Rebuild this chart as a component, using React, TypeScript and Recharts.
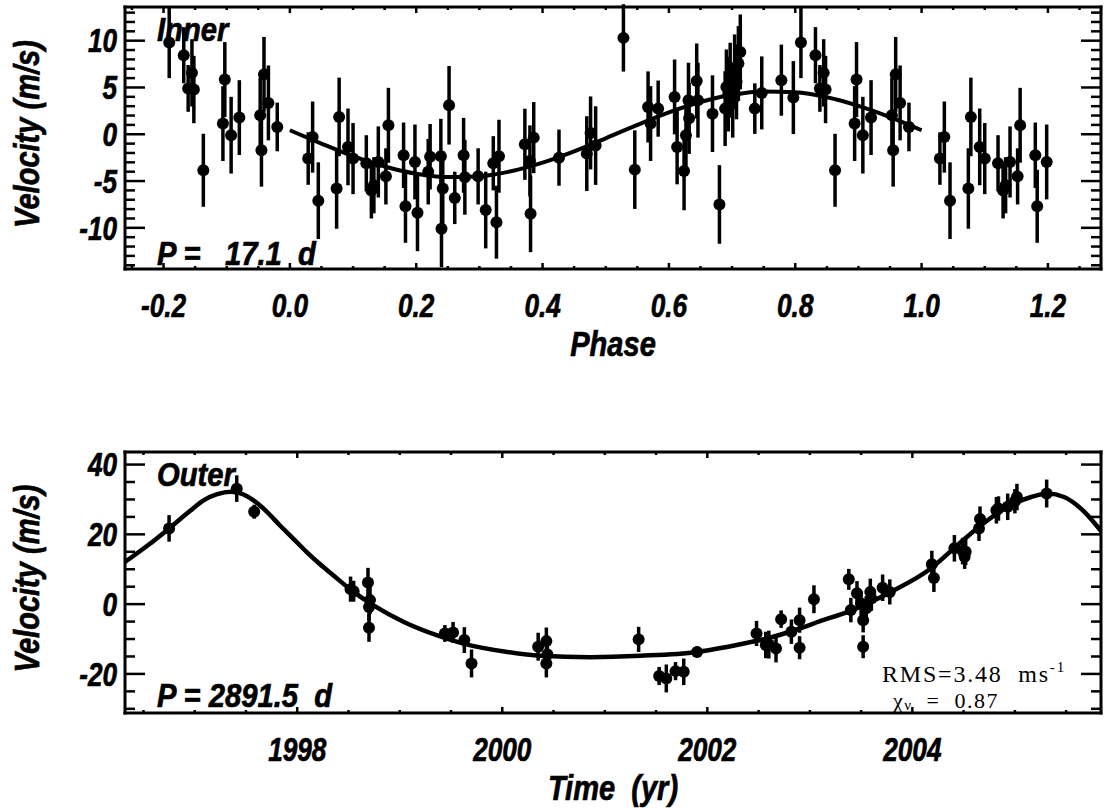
import React from 'react';
import { ComposedChart, Scatter, Line, XAxis, YAxis, ErrorBar, Label } from 'recharts';

// ---------- Inner planet (phase-folded) ----------
const innerPhase = [
  0.029, 0.036, 0.045, 0.074, 0.078, 0.092, 0.100, 0.121, 0.129, 0.133, 0.140, 0.152, 0.156, 0.180, 0.183, 0.198,
  0.202, 0.219, 0.222, 0.239, 0.240, 0.242, 0.252, 0.261, 0.275, 0.277, 0.298, 0.310, 0.322, 0.327, 0.331,
  0.372, 0.380, 0.381, 0.386, 0.426, 0.470, 0.476, 0.484, 0.528, 0.546, 0.567, 0.571, 0.583, 0.609, 0.613,
  0.624, 0.627, 0.631, 0.632, 0.644, 0.646, 0.669, 0.680, 0.689, 0.691, 0.694, 0.697, 0.701, 0.704, 0.707,
  0.710, 0.713, 0.736, 0.747, 0.778, 0.797,
  0.809, 0.832, 0.839, 0.845, 0.848, 0.863, 0.894, 0.897, 0.907, 0.920, 0.953, 0.955, 0.959, 0.966, 0.980,
];
const innerVel = [
  -2.6, -0.3, -7.1, -5.8, 1.85, -1.35, -2.6, -3.1, -6.0, -5.45, -2.96, -4.5, 0.96, -2.25, -7.7, -2.96,
  -8.4, -4.0, -2.4, -2.35, -10.1, -5.8, 3.1, -6.8, -2.25, -4.6, -4.5, -8.1, -3.1, -9.4, -2.35,
  -1.07, -2.85, -8.5, -0.36, -2.5, -2.07, 0.14, -1.21, 10.3, -3.78, 2.92, 1.14, 2.74, 3.99, -1.35,
  -3.92, -0.1, 3.64, 1.7, 5.7, 3.64, 2.2, -7.5, 2.74, 5.06, 4.3, 5.78, 3.64, 6.67, 5.6,
  7.56, 8.8, 2.74, 4.42, 5.78, 3.92,
  9.8, 8.45, 4.9, 6.56, 4.78, -3.85, 1.14, 5.85, -0.1, 1.78, 2.03, -1.7, 6.4, 3.35, 0.78,
];
const innerErr = [
  2.8, 3.8, 4.1, 4.3, 4.2, 4.1, 3.8, 3.0, 3.0, 3.0, 3.8, 3.0, 4.0, 3.5, 3.9, 4.0,
  4.1, 3.5, 3.5, 4.0, 4.1, 4.0, 4.2, 2.8, 4.0, 4.0, 3.0, 4.1, 2.9, 3.9, 3.9,
  3.8, 3.8, 4.1, 3.8, 3.0, 4.0, 3.9, 4.2, 3.6, 4.2, 3.8, 4.0, 3.0, 4.0, 4.0,
  4.2, 4.0, 4.0, 3.8, 4.0, 4.0, 4.1, 4.2, 4.0, 4.0, 4.0, 4.0, 4.0, 4.0, 4.0,
  4.0, 4.0, 2.7, 3.9, 3.8, 3.9,
  3.8, 3.0, 2.5, 3.6, 3.6, 3.9, 4.0, 4.0, 4.1, 4.0, 4.0, 3.9, 4.0, 4.0, 2.6,
];
const innerCurvePhase = [0, 0.05, 0.1, 0.15, 0.2, 0.25, 0.3, 0.35, 0.4, 0.45, 0.5, 0.55, 0.6, 0.65, 0.7, 0.75, 0.8, 0.85, 0.9, 0.95, 1.0];
const innerCurveVel = [0.43, -1.0, -2.34, -3.45, -4.22, -4.58, -4.49, -3.96, -3.04, -1.83, -0.43, 1.0, 2.34, 3.45, 4.22, 4.58, 4.49, 3.96, 3.04, 1.83, 0.43];

const phaseMajor = [-0.2, 0, 0.2, 0.4, 0.6, 0.8, 1.0, 1.2];
const phaseLabels = ['-0.2', '0.0', '0.2', '0.4', '0.6', '0.8', '1.0', '1.2'];
const innerVelMajor = [-10, -5, 0, 5, 10];
const innerVelLabels = ['-10', '-5', '0', '5', '10'];

// ---------- Outer planet (time series) ----------
const outerTime = [
  1996.75, 1997.41, 1997.58, 1998.52, 1998.55, 1998.69, 1998.71, 1998.70, 1998.70, 1999.44, 1999.52, 1999.63,
  1999.70, 2000.35, 2000.43, 2000.44, 2000.43, 2001.33, 2001.53, 2001.60, 2001.69, 2001.77, 2001.90, 2002.48,
  2002.57, 2002.60, 2002.67, 2002.72, 2002.82, 2002.90, 2002.90, 2003.04, 2003.38, 2003.40, 2003.46, 2003.50,
  2003.52, 2003.52, 2003.55, 2003.59, 2003.60, 2003.71, 2003.78, 2004.19, 2004.21, 2004.41, 2004.49, 2004.52,
  2004.51, 2004.65, 2004.66, 2004.82, 2004.84, 2004.93, 2005.00, 2005.02, 2005.31,
];
const outerVel = [
  21.7, 33.1, 26.5, 4.3, 3.7, 6.2, 1.15, -0.8, -6.8, -8.4, -8.1, -10.3,
  -17.0, -12.2, -10.6, -14.4, -17.0, -10.1, -20.6, -21.3, -19.2, -19.4, -13.7, -8.4,
  -11.7, -11.6, -12.7, -4.3, -7.9, -4.6, -12.5, 1.4, 7.1, -1.7, 3.1, 0.2,
  -4.6, -12.2, -1.2, 3.5, 1.6, 4.7, 3.5, 11.4, 7.5, 16.0, 15.2, 15.0,
  13.6, 21.7, 24.4, 26.9, 27.4, 27.9, 29.5, 30.7, 31.7,
];
const outerErr = [
  3.8, 3.8, 2.0, 3.6, 3.0, 4.2, 4.0, 4.0, 4.0, 2.4, 3.0, 3.7,
  4.0, 4.0, 3.9, 3.5, 4.0, 3.6, 2.6, 4.0, 2.6, 3.8, 1.5, 3.6,
  3.8, 4.0, 4.0, 2.5, 3.5, 3.6, 3.3, 4.0, 3.0, 3.5, 3.5, 3.5,
  3.5, 3.3, 3.5, 3.8, 3.5, 3.8, 3.6, 3.9, 4.0, 3.8, 3.8, 3.8,
  3.5, 3.6, 3.6, 3.8, 3.5, 3.8, 3.5, 3.8, 4.0,
];
const outerCurveTime = [
  1996.32, 1996.55, 1996.75, 1996.95, 1997.09, 1997.22, 1997.35, 1997.47, 1997.57, 1997.70, 1997.83, 1997.96,
  1998.09, 1998.22, 1998.35, 1998.55, 1998.74, 1999.04, 1999.36, 1999.62, 2000.05, 2000.37, 2000.86, 2001.35,
  2001.90, 2002.32, 2002.60, 2002.88, 2003.10, 2003.37, 2003.79, 2004.18, 2004.44, 2004.67, 2004.93, 2005.16,
  2005.32, 2005.48, 2005.68, 2005.85,
];
const outerCurveVel = [
  12.1, 17.0, 21.7, 26.6, 29.8, 31.5, 32.2, 31.5, 29.8, 26.6, 22.6, 18.8,
  15.0, 11.5, 8.3, 3.5, -0.3, -5.1, -8.9, -11.3, -13.7, -14.8, -15.2, -14.8,
  -13.7, -11.5, -9.7, -7.2, -4.9, -2.2, 3.5, 10.2, 16.9, 22.6, 27.9, 30.7,
  31.7, 30.7, 26.4, 20.6,
];
const timeMajor = [1998, 2000, 2002, 2004];
const timeLabels = ['1998', '2000', '2002', '2004'];
const outerVelMajor = [-20, 0, 20, 40];
const outerVelLabels = ['-20', '0', '20', '40'];

// ---------- derived tables ----------
const innerBase = innerPhase.map((p, i) => ({ x: p, y: innerVel[i], e: innerErr[i] }));
const innerPoints = [
  ...innerBase.filter((d) => d.x >= 0.8).map((d) => ({ ...d, x: d.x - 1 })),
  ...innerBase,
  ...innerBase.filter((d) => d.x < 0.2).map((d) => ({ ...d, x: d.x + 1 })),
];
const innerCurve = innerCurvePhase.map((p, i) => ({ x: p, y: innerCurveVel[i] }));
const outerPoints = outerTime.map((t, i) => ({ x: t, y: outerVel[i], e: outerErr[i] }));
const outerCurve = outerCurveTime.map((t, i) => ({ x: t, y: outerCurveVel[i] }));

const range = (a: number, b: number, s: number) => {
  const r: number[] = [];
  for (let k = 0; a + k * s <= b + 1e-9; k++) r.push(Math.round((a + k * s) * 1000) / 1000);
  return r;
};
const phaseTicks = range(-0.25, 1.25, 0.05);
const innerVelTicks = range(-14, 13, 1);
const timeTicks = range(1996.5, 2005.5, 0.5);
const outerVelTicks = range(-30, 40, 5);

const SANS = "'Liberation Sans', Arial, Helvetica, sans-serif";
const SERIF = "'Liberation Serif', 'Times New Roman', serif";

const idxOf = (arr: number[], v: number) => arr.findIndex((m) => Math.abs(m - v) < 1e-6);

// condensed bold-italic text (IDL-like font)
function CText(p: { x: number; y: number; size: number; sx: number; anchor?: string; baseline?: string; rotate?: boolean; heavy?: boolean; children: any }) {
  const tr = `translate(${p.x},${p.y})${p.rotate ? ' rotate(-90)' : ''} scale(${p.sx},1)`;
  return (
    <g transform={tr}>
      <text x={0} y={0} textAnchor={p.anchor || 'start'} dominantBaseline={p.baseline || 'auto'} fontSize={p.size}
        fontFamily={SANS} fontWeight={700} fontStyle="italic" fill="#000"
        stroke={p.heavy ? '#000' : 'none'} strokeWidth={p.heavy ? 0.7 : 0} style={{ whiteSpace: 'pre' }}>
        {p.children}
      </text>
    </g>
  );
}

const TICK_FS = 34;
const TICK_SX = 0.77;

function xTick(majors: number[], labels: string[] | null, dir: number, len: number, mlen: number) {
  return (props: any) => {
    const { x, y, payload } = props;
    const i = idxOf(majors, payload.value);
    const l = i >= 0 ? len : mlen;
    return (
      <g>
        <line x1={x} y1={y} x2={x} y2={y + dir * l} stroke="#000" strokeWidth={2.5} />
        {labels && i >= 0 && (
          <CText x={x} y={y + 36} size={TICK_FS} sx={TICK_SX} anchor="middle" baseline="central" heavy>{labels[i]}</CText>
        )}
      </g>
    );
  };
}
function yTick(majors: number[], labels: string[] | null, dir: number, len: number, mlen: number) {
  return (props: any) => {
    const { x, y, payload } = props;
    const i = idxOf(majors, payload.value);
    const l = i >= 0 ? len : mlen;
    return (
      <g>
        <line x1={x} y1={y} x2={x + dir * l} y2={y} stroke="#000" strokeWidth={2.5} />
        {labels && i >= 0 && (
          <CText x={x - 8} y={y} size={TICK_FS} sx={TICK_SX} anchor="end" baseline="central" heavy>{labels[i]}</CText>
        )}
      </g>
    );
  };
}

const axisLine = { stroke: '#000', strokeWidth: 3, strokeLinecap: 'square' as const };

const dot = (props: any) => <circle cx={props.cx} cy={props.cy} r={6} fill="#000" />;

function YTitle(props: any) {
  const vb = props.viewBox;
  return (
    <CText x={27} y={vb.y + vb.height / 2 - 4} size={35} sx={0.83} anchor="middle" baseline="central" rotate heavy>
      Velocity (m/s)
    </CText>
  );
}
function XTitle(text: string) {
  return (props: any) => {
    const vb = props.viewBox;
    return (
      <CText x={vb.x + vb.width / 2} y={vb.y + 75} size={35} sx={0.83} anchor="middle" baseline="central" heavy>
        {text}
      </CText>
    );
  };
}
function Annot(text: string, dx: number, fromTop: boolean, dy: number) {
  return (props: any) => {
    const vb = props.viewBox;
    const left = vb.x + vb.width;
    const y = fromTop ? vb.y + dy : vb.y + vb.height - dy;
    return (
      <CText x={left + dx} y={y} size={34} sx={0.86} heavy>
        {text}
      </CText>
    );
  };
}
function StatsAnnot(props: any) {
  const vb = props.viewBox;
  const left = vb.x + vb.width;
  const bottom = vb.y + vb.height;
  return (
    <g fontFamily={SERIF} fill="#000">
      <text x={left + 757} y={bottom - 31} fontSize={24} letterSpacing={1.8} style={{ whiteSpace: 'pre' }}>
        RMS=3.48  ms<tspan fontSize={15} dy={-10}>-1</tspan>
      </text>
      <text x={left + 768} y={bottom - 5} fontSize={22} letterSpacing={1.5} style={{ whiteSpace: 'pre' }}>
        χ<tspan fontSize={15} dy={2}>ν</tspan>
        <tspan dy={-2}>  =  0.87</tspan>
      </text>
    </g>
  );
}

const PHASE_DOMAIN: [number, number] = [-0.261, 1.284];
const INNER_V_DOMAIN: [number, number] = [-14.4, 13.6];
const TIME_DOMAIN: [number, number] = [1996.32, 2005.84];
const OUTER_V_DOMAIN: [number, number] = [-31.2, 43.6];

export default function App() {
  return (
    <div style={{ position: 'absolute', left: 0, top: 0, width: 1104, height: 808, background: '#fff' }}>
      <div style={{ position: 'absolute', left: 0, top: 0 }}>
        <ComposedChart width={1104} height={380} margin={{ top: 6, right: 2, bottom: 0, left: 0 }}>
          <XAxis xAxisId="b" type="number" dataKey="x" domain={PHASE_DOMAIN} allowDataOverflow ticks={phaseTicks}
            interval={0} tickSize={0} tickMargin={0} tickLine={false} axisLine={axisLine} height={111}
            tick={xTick(phaseMajor, phaseLabels, -1, 6, 3)}>
            <Label content={XTitle('Phase')} />
          </XAxis>
          <XAxis xAxisId="t" orientation="top" type="number" dataKey="x" domain={PHASE_DOMAIN} allowDataOverflow ticks={phaseTicks}
            interval={0} tickSize={0} tickMargin={0} tickLine={false} axisLine={axisLine} height={1}
            tick={xTick(phaseMajor, null, 1, 6, 3)} />
          <YAxis yAxisId="l" type="number" dataKey="y" domain={INNER_V_DOMAIN} allowDataOverflow ticks={innerVelTicks}
            interval={0} tickSize={0} tickMargin={0} tickLine={false} axisLine={axisLine} width={125}
            tick={yTick(innerVelMajor, innerVelLabels, 1, 20, 10)}>
            <Label content={YTitle} />
            <Label content={Annot('Inner', 32, true, 34)} />
            <Label content={Annot('P =   17.1  d', 32, false, 4)} />
          </YAxis>
          <YAxis yAxisId="r" orientation="right" type="number" dataKey="y" domain={INNER_V_DOMAIN} allowDataOverflow ticks={innerVelTicks}
            interval={0} tickSize={0} tickMargin={0} tickLine={false} axisLine={axisLine} width={1}
            tick={yTick(innerVelMajor, null, -1, 20, 10)} />
          <Scatter xAxisId="b" yAxisId="l" data={innerPoints} dataKey="y" shape={dot} isAnimationActive={false}>
            <ErrorBar dataKey="e" direction="y" width={0} strokeWidth={3.5} stroke="#000" />
          </Scatter>
          <Line xAxisId="b" yAxisId="l" data={innerCurve} dataKey="y" type="monotone" dot={false} activeDot={false}
            stroke="#000" strokeWidth={4} isAnimationActive={false} />
        </ComposedChart>
      </div>
      <div style={{ position: 'absolute', left: 0, top: 380 }}>
        <ComposedChart width={1104} height={428} margin={{ top: 71, right: 2, bottom: 0, left: 0 }}>
          <XAxis xAxisId="b" type="number" dataKey="x" domain={TIME_DOMAIN} allowDataOverflow ticks={timeTicks}
            interval={0} tickSize={0} tickMargin={0} tickLine={false} axisLine={axisLine} height={95}
            tick={xTick(timeMajor, timeLabels, -1, 6, 3)}>
            <Label content={XTitle('Time  (yr)')} />
          </XAxis>
          <XAxis xAxisId="t" orientation="top" type="number" dataKey="x" domain={TIME_DOMAIN} allowDataOverflow ticks={timeTicks}
            interval={0} tickSize={0} tickMargin={0} tickLine={false} axisLine={axisLine} height={1}
            tick={xTick(timeMajor, null, 1, 6, 3)} />
          <YAxis yAxisId="l" type="number" dataKey="y" domain={OUTER_V_DOMAIN} allowDataOverflow ticks={outerVelTicks}
            interval={0} tickSize={0} tickMargin={0} tickLine={false} axisLine={axisLine} width={125}
            tick={yTick(outerVelMajor, outerVelLabels, 1, 20, 10)}>
            <Label content={YTitle} />
            <Label content={Annot('Outer', 32, true, 34)} />
            <Label content={Annot('P = 2891.5  d', 32, false, 6)} />
            <Label content={StatsAnnot} />
          </YAxis>
          <YAxis yAxisId="r" orientation="right" type="number" dataKey="y" domain={OUTER_V_DOMAIN} allowDataOverflow ticks={outerVelTicks}
            interval={0} tickSize={0} tickMargin={0} tickLine={false} axisLine={axisLine} width={1}
            tick={yTick(outerVelMajor, null, -1, 20, 10)} />
          <Line xAxisId="b" yAxisId="l" data={outerCurve} dataKey="y" type="monotone" dot={false} activeDot={false}
            stroke="#000" strokeWidth={4.5} isAnimationActive={false} />
          <Scatter xAxisId="b" yAxisId="l" data={outerPoints} dataKey="y" shape={dot} isAnimationActive={false}>
            <ErrorBar dataKey="e" direction="y" width={0} strokeWidth={3.5} stroke="#000" />
          </Scatter>
        </ComposedChart>
      </div>
    </div>
  );
}
